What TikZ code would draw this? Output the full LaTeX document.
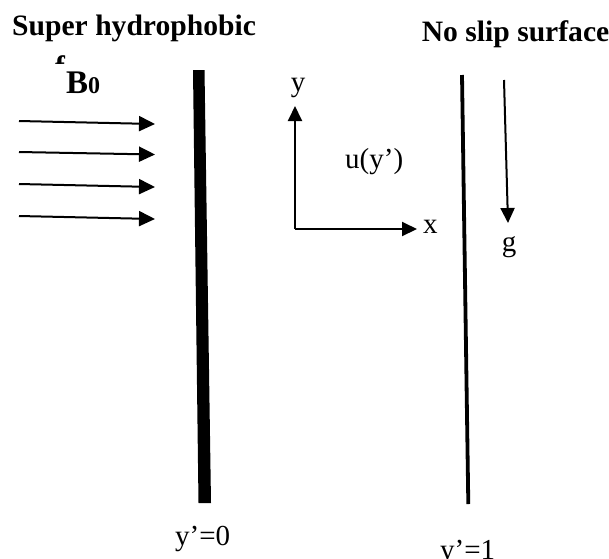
\documentclass[tikz,border=0pt]{standalone}
\usepackage{fontspec}
\setmainfont{Liberation Serif}
\usetikzlibrary{arrows.meta}
\begin{document}
\begin{tikzpicture}[x=1pt,y=-1pt,
  lbl/.style={inner sep=0pt,font=\fontsize{29}{30}\selectfont},
  blbl/.style={inner sep=0pt,font=\fontsize{29.6}{31}\selectfont\bfseries},
  arr/.style={line width=2pt,-{Triangle[length=16pt,width=15pt]}},
  axis/.style={line width=2pt,-{Triangle[length=15pt,width=14pt]}}]
\useasboundingbox (0,0) rectangle (609,558);
\clip (0,0) rectangle (609,558);
% titles
\node[blbl,anchor=base west] (sh) at (12,35) {Super hydrophobic};
\node[blbl,anchor=base east] (ns) at (609.5,41.5) {No slip surface};
\begin{scope}
\clip (40,40) rectangle (80,63);
\node[blbl,anchor=base west] (sf) at (55,76) {f};
\end{scope}
\node[inner sep=0pt,anchor=base west] (b0) at (66,93) {\bfseries\fontsize{33}{34}\selectfont B\fontsize{24}{25}\selectfont 0};
% field arrows
\coordinate (a1) at (19,121); \coordinate (a1e) at (155,124);
\coordinate (a2) at (19,152); \coordinate (a2e) at (155,154.5);
\coordinate (a3) at (19,184); \coordinate (a3e) at (155,187);
\coordinate (a4) at (19,216); \coordinate (a4e) at (155,219);
\draw[arr] (a1) -- (a1e);
\draw[arr] (a2) -- (a2e);
\draw[arr] (a3) -- (a3e);
\draw[arr] (a4) -- (a4e);
% walls
\fill (193,70) -- (204.5,70) -- (211,503) -- (198.5,503) -- cycle;
\coordinate (wt) at (462,75); \coordinate (wb) at (468.3,504);
\draw[line width=3.8pt] (wt) -- (wb);
% axes
\coordinate (o) at (295,229);
\coordinate (yt) at (295,106);
\coordinate (xt) at (417,229);
\draw[axis] (o) -- (yt);
\draw[axis] (o) -- (xt);
\node[lbl,anchor=base] (ylab) at (298,91) {y};
\node[lbl,anchor=base west] (xlab) at (423,233) {x};
\node[lbl,anchor=base west] (u) at (345,168) {u(y’)};
% gravity
\coordinate (gt) at (504,80); \coordinate (gb) at (508,223);
\draw[axis] (gt) -- (gb);
\node[lbl,anchor=base] (g) at (509,251) {g};
% bottom labels
\node[lbl,anchor=base west] (y0) at (175,545) {y’=0};
\node[lbl,anchor=base west] (y1) at (440,559) {y’=1};
\end{tikzpicture}
\end{document}
